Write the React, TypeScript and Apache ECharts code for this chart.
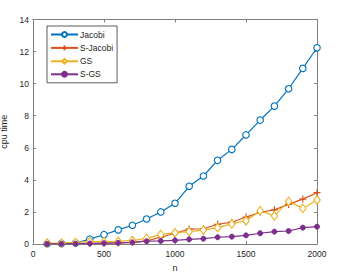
import React, { useEffect, useRef } from "react";
import * as echarts from "echarts";

const nValues = [100, 200, 300, 400, 500, 600, 700, 800, 900, 1000, 1100, 1200, 1300, 1400, 1500, 1600, 1700, 1800, 1900, 2000];
const jacobi = [0.02, 0.03, 0.06, 0.3, 0.58, 0.88, 1.17, 1.56, 2.0, 2.54, 3.6, 4.24, 5.22, 5.9, 6.8, 7.73, 8.6, 9.68, 10.95, 12.24];
const sJacobi = [0.02, 0.02, 0.03, 0.04, 0.05, 0.07, 0.1, 0.2, 0.42, 0.67, 0.93, 0.95, 1.23, 1.36, 1.68, 1.98, 2.13, 2.47, 2.8, 3.2];
const gs = [0.06, 0.05, 0.1, 0.15, 0.15, 0.17, 0.22, 0.35, 0.6, 0.7, 0.77, 0.87, 1.02, 1.25, 1.45, 2.08, 1.75, 2.66, 2.22, 2.74];
const sGs = [0.01, 0.01, 0.02, 0.03, 0.05, 0.07, 0.1, 0.17, 0.19, 0.23, 0.29, 0.33, 0.42, 0.46, 0.54, 0.67, 0.77, 0.81, 1.02, 1.08];
const seriesNames = ["Jacobi", "S-Jacobi", "GS", "S-GS"];
const xLabel = "n";
const yLabel = "cpu time";

const FONT = "'Liberation Sans', Arial, sans-serif";
const AX = "#808080";
const TXT = "#262626";

export default function App() {
  const ref = useRef<HTMLDivElement>(null);
  useEffect(() => {
    if (!ref.current) return;
    const chart = echarts.init(ref.current, undefined, { renderer: "svg" });
    const pair = (arr: number[]) => nValues.map((n, i) => [n, arr[i]]);
    const axisCommon = {
      type: "value" as const,
      axisLine: { show: true, onZero: false, lineStyle: { color: AX, width: 1 } },
      axisTick: { show: true, inside: true, length: 3, lineStyle: { color: AX } },
      splitLine: { show: false },
    };
    chart.setOption({
      animation: false,
      backgroundColor: "#ffffff",
      textStyle: { fontFamily: FONT },
      grid: { left: 33, right: 21, top: 19.5, bottom: 30, containLabel: false, outerBoundsMode: "none" },
      legend: {
        left: 47,
        top: 26,
        orient: "vertical",
        itemWidth: 27,
        itemHeight: 6,
        itemGap: 4,
        padding: [4, 4, 4, 3],
        borderColor: "#333",
        borderWidth: 0.8,
        backgroundColor: "#fff",
        textStyle: { fontSize: 8.5, color: TXT, fontFamily: FONT, padding: [0, 0, 0, -3] },
        data: seriesNames,
      },
      xAxis: [
        {
          ...axisCommon,
          min: 0,
          max: 2000,
          interval: 500,
          name: xLabel,
          nameLocation: "middle",
          nameGap: 19,
          nameTextStyle: { fontSize: 9, color: TXT, fontFamily: FONT },
          axisLabel: {
            fontSize: 8.5,
            color: TXT,
            margin: 5,
            fontFamily: FONT,
            showMinLabel: true,
            hideOverlap: false,
            formatter: (v: number) => String(v),
          },
        },
        {
          ...axisCommon,
          position: "top",
          min: 0,
          max: 2000,
          interval: 500,
          axisLabel: { show: false },
        },
      ],
      yAxis: [
        {
          ...axisCommon,
          min: 0,
          max: 14,
          interval: 2,
          name: yLabel,
          nameLocation: "middle",
          nameGap: 20,
          nameTextStyle: { fontSize: 9, color: TXT, fontFamily: FONT },
          axisLabel: { fontSize: 8.5, color: TXT, margin: 4, fontFamily: FONT, formatter: (v: number) => String(v) },
        },
        {
          ...axisCommon,
          position: "right",
          min: 0,
          max: 14,
          interval: 2,
          axisLabel: { show: false },
        },
      ],
      series: [
        {
          name: seriesNames[0],
          type: "line",
          data: pair(jacobi),
          symbol: "circle",
          symbolSize: 6.5,
          lineStyle: { color: "#0072BD", width: 1.2 },
          itemStyle: { color: "#ffffff", borderColor: "#0072BD", borderWidth: 1.1 },
        },
        {
          name: seriesNames[1],
          type: "line",
          data: pair(sJacobi),
          symbol: "path://M5,0 L5,10 M0,5 L10,5",
          symbolSize: 7,
          lineStyle: { color: "#D95319", width: 1.2 },
          itemStyle: { color: "none", borderColor: "#D95319", borderWidth: 1.2 },
        },
        {
          name: seriesNames[2],
          type: "line",
          data: pair(gs),
          symbol: "diamond",
          symbolSize: [6.5, 8.5],
          lineStyle: { color: "#EDB120", width: 1.2 },
          itemStyle: { color: "#ffffff", borderColor: "#EDB120", borderWidth: 1.1 },
        },
        {
          name: seriesNames[3],
          type: "line",
          data: pair(sGs),
          symbol: "circle",
          symbolSize: 5,
          lineStyle: { color: "#7E2F8E", width: 1.2 },
          itemStyle: { color: "#7E2F8E", borderColor: "#7E2F8E", borderWidth: 1 },
        },
      ],
    });
    return () => chart.dispose();
  }, []);
  return <div ref={ref} style={{ width: 338, height: 274, position: "absolute", left: 0, top: 0 }} />;
}
